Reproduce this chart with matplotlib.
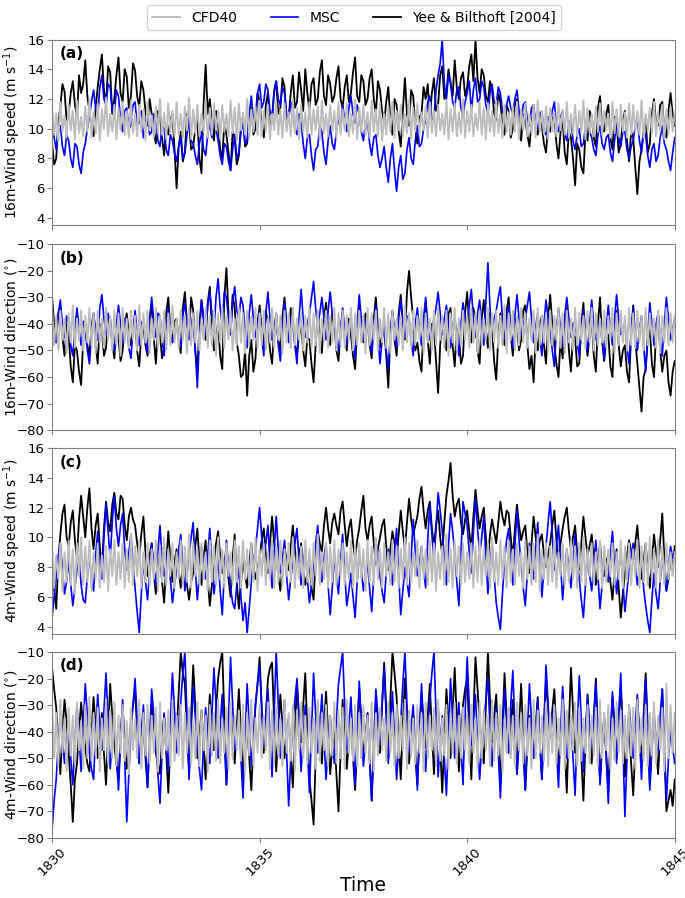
import numpy as np
import matplotlib
matplotlib.use("Agg")
import matplotlib.pyplot as plt

# time axis: 301 samples from 1830 to 1845
time = np.linspace(1830, 1845, 301)

# 16 m wind speed (m/s), one row per unit of time
ws16_cfd = [11.4, 9.6, 11.0, 9.2, 11.8, 9.8, 10.9, 9.4, 11.6, 9.9, 11.2, 9.3, 11.9, 9.7, 10.8, 9.5, 11.5, 9.8, 12.0, 9.4,
            11.1, 9.7, 11.7, 9.2, 11.3, 10.0, 12.1, 9.5, 11.0, 9.8, 11.6, 9.3, 11.4, 9.9, 11.8, 9.6, 11.2, 9.4, 11.9, 9.7,
            11.0, 9.5, 11.6, 9.8, 11.3, 9.2, 11.8, 9.9, 10.9, 9.4, 11.5, 9.7, 12.0, 9.6, 11.1, 9.3, 11.7, 9.8, 11.2, 9.5,
            11.8, 9.6, 11.0, 9.4, 11.5, 9.9, 12.1, 9.3, 11.3, 9.7, 11.6, 9.5, 11.0, 9.8, 11.9, 9.4, 11.4, 9.6, 11.7, 9.9,
            11.2, 9.3, 11.6, 9.8, 11.0, 9.5, 11.9, 9.7, 11.4, 9.2, 11.7, 9.9, 11.1, 9.6, 12.0, 9.4, 11.3, 9.8, 11.5, 9.6,
            11.9, 9.5, 11.2, 9.8, 11.6, 9.3, 11.0, 9.9, 11.8, 9.6, 11.3, 9.4, 11.7, 9.8, 11.1, 9.5, 12.0, 9.7, 11.4, 9.3,
            11.6, 9.8, 11.1, 9.4, 11.8, 9.6, 11.3, 9.9, 11.5, 9.2, 11.9, 9.7, 11.0, 9.5, 11.6, 9.8, 11.2, 9.4, 11.8, 9.6,
            11.3, 9.9, 11.7, 9.5, 11.0, 9.7, 12.0, 9.3, 11.4, 9.8, 11.6, 9.6, 11.1, 9.4, 11.9, 9.8, 11.3, 9.5, 11.7, 9.2,
            11.0, 9.6, 11.5, 9.8, 11.8, 9.4, 11.2, 9.9, 11.6, 9.5, 11.0, 9.7, 11.9, 9.3, 11.4, 9.8, 11.7, 9.6, 11.1, 9.9,
            11.5, 9.4, 11.8, 9.7, 11.2, 9.5, 11.6, 9.9, 11.0, 9.6, 11.9, 9.3, 11.3, 9.8, 11.7, 9.5, 11.1, 9.7, 12.0, 9.4,
            11.2, 9.8, 11.6, 9.5, 11.0, 9.9, 11.8, 9.6, 11.4, 9.3, 11.7, 9.8, 11.2, 9.5, 11.9, 9.7, 11.0, 9.4, 11.6, 9.8,
            11.1, 9.6, 11.5, 9.8, 11.8, 9.3, 11.3, 9.9, 11.7, 9.5, 11.0, 9.7, 11.6, 9.4, 11.9, 9.8, 11.2, 9.6, 11.5, 9.3,
            11.4, 9.8, 11.1, 9.5, 11.7, 9.9, 11.3, 9.6, 11.8, 9.4, 11.0, 9.7, 11.6, 9.5, 11.2, 9.8, 11.9, 9.3, 11.4, 9.7,
            11.0, 9.5, 11.5, 9.8, 11.7, 9.6, 11.2, 9.9, 11.0, 9.4, 11.8, 9.7, 11.3, 9.5, 11.6, 9.8, 11.1, 9.4, 11.7, 9.6,
            11.6, 9.8, 11.2, 9.6, 11.9, 9.4, 11.0, 9.9, 11.4, 9.7, 11.8, 9.5, 11.1, 9.8, 11.6, 9.3, 11.3, 9.7, 11.5, 9.8,
            11.0]
ws16_msc = [10.6, 9.4, 8.6, 9.8, 10.2, 8.8, 8.2, 9.6, 9.2, 8.0, 7.4, 9.0, 8.8, 7.6, 7.0, 8.4, 9.0, 10.0, 10.8, 11.8,
            12.6, 11.4, 10.8, 12.8, 13.6, 12.0, 11.6, 13.0, 12.8, 11.2, 11.0, 12.6, 12.2, 10.6, 9.8, 11.2, 11.4, 10.0, 10.2, 11.6,
            11.8, 10.2, 10.4, 11.2, 9.4, 10.4, 11.0, 9.6, 9.8, 11.0, 10.6, 9.2, 8.8, 10.2, 10.0, 8.6, 8.2, 9.6, 9.2, 8.4,
            7.8, 8.8, 9.4, 8.0, 8.4, 9.6, 10.6, 9.2, 9.0, 8.2, 7.6, 9.0, 9.8, 8.6, 8.2, 9.6, 10.4, 9.4, 11.0, 10.0,
            9.2, 8.2, 7.6, 9.0, 8.8, 7.8, 7.2, 8.6, 9.6, 8.0, 8.4, 9.8, 10.4, 9.0, 9.2, 11.0, 12.2, 10.6, 11.0, 12.4,
            13.0, 11.4, 11.8, 13.0, 12.6, 11.2, 10.8, 12.4, 13.2, 12.0, 11.6, 12.8, 12.4, 11.0, 10.6, 11.8, 11.2, 10.0, 9.6, 11.0,
            10.4, 9.0, 8.0, 9.4, 9.6, 8.2, 7.2, 8.6, 8.8, 10.2, 9.8, 8.4, 7.6, 9.2, 10.2, 9.0, 8.6, 9.8, 10.8, 10.0,
            11.6, 10.6, 9.8, 11.4, 12.2, 11.0, 10.4, 11.6, 11.0, 9.8, 9.2, 10.4, 10.6, 9.0, 8.2, 9.4, 9.6, 8.2, 7.4, 8.0,
            8.8, 7.4, 6.4, 8.0, 9.0, 7.2, 5.8, 7.4, 8.2, 6.6, 7.0, 8.6, 9.4, 8.0, 7.6, 9.2, 10.2, 8.8, 9.0, 10.0,
            10.6, 11.8, 12.2, 10.6, 10.8, 12.6, 13.6, 14.4, 16.0, 13.0, 12.0, 13.6, 13.2, 11.8, 11.4, 12.6, 12.8, 11.4, 10.8, 11.8,
            12.4, 13.2, 11.2, 12.6, 13.4, 11.8, 12.0, 13.2, 12.8, 11.6, 11.0, 12.4, 13.0, 11.8, 11.6, 12.8, 12.4, 11.2, 10.8, 11.6,
            12.2, 11.4, 11.0, 12.0, 12.6, 11.2, 10.6, 11.6, 11.8, 10.6, 10.2, 11.4, 11.6, 10.4, 10.0, 11.0, 11.2, 9.8, 9.6, 10.8,
            10.4, 11.2, 11.8, 10.2, 9.8, 10.8, 11.2, 9.6, 9.2, 10.4, 10.6, 9.2, 8.6, 9.6, 10.0, 8.8, 9.0, 10.2, 11.0, 9.8,
            9.4, 8.6, 8.2, 9.6, 10.2, 9.0, 8.6, 9.4, 9.6, 8.4, 7.8, 9.2, 10.4, 9.4, 8.8, 9.8, 9.8, 8.6, 8.0, 8.8,
            9.2, 10.2, 10.8, 9.2, 8.4, 9.8, 9.6, 8.2, 7.4, 8.6, 9.0, 7.8, 8.2, 9.4, 10.2, 9.0, 8.6, 7.8, 7.2, 8.4,
            9.4]
ws16_yee = [9.0, 7.6, 8.0, 10.4, 11.5, 13.0, 12.5, 10.6, 11.0, 12.4, 13.2, 11.6, 10.8, 13.6, 12.4, 13.0, 14.6, 12.2, 11.2, 10.0,
            9.5, 11.4, 12.8, 14.0, 15.0, 12.6, 11.6, 14.2, 13.8, 11.0, 12.0, 13.6, 14.8, 12.4, 11.8, 14.0, 13.5, 11.4, 12.2, 14.4,
            13.9, 12.2, 11.5, 13.2, 12.6, 11.2, 10.2, 12.0, 11.0, 9.8, 9.0, 11.2, 10.8, 9.4, 8.2, 10.2, 9.6, 10.6, 11.0, 8.6,
            6.0, 8.8, 9.8, 7.8, 8.4, 11.0, 10.4, 8.6, 8.8, 10.0, 10.6, 8.0, 7.0, 11.6, 14.3, 11.0, 12.0, 10.4, 9.2, 11.2,
            10.2, 8.6, 8.0, 10.4, 9.6, 8.4, 7.2, 9.8, 9.4, 7.6, 8.2, 10.2, 10.8, 8.8, 9.0, 11.0, 11.4, 9.6, 10.0, 12.4,
            11.8, 10.2, 9.4, 11.6, 12.4, 10.0, 10.6, 12.6, 13.2, 11.0, 11.4, 13.4, 12.8, 10.4, 10.8, 12.4, 13.6, 11.4, 11.8, 13.8,
            12.6, 11.2, 14.0, 12.4, 11.2, 13.0, 13.4, 11.6, 12.0, 13.8, 14.6, 12.2, 11.6, 13.6, 13.0, 11.8, 12.2, 13.4, 14.2, 12.0,
            11.4, 12.8, 13.6, 11.8, 12.4, 13.8, 14.8, 12.2, 11.8, 13.6, 13.2, 11.6, 12.0, 13.4, 14.0, 12.0, 11.0, 13.2, 12.6, 11.2,
            10.4, 11.8, 12.8, 10.6, 9.6, 12.0, 11.6, 9.8, 8.8, 11.2, 13.4, 11.0, 10.2, 12.6, 12.2, 10.2, 9.0, 10.8, 11.0, 12.8,
            12.0, 13.0, 10.8, 12.4, 13.4, 11.2, 11.6, 13.6, 14.2, 12.0, 12.4, 14.0, 13.0, 12.2, 14.6, 12.8, 12.0, 13.4, 13.8, 12.2,
            12.8, 14.2, 15.0, 13.2, 16.0, 13.4, 12.4, 14.0, 13.6, 12.2, 11.8, 13.2, 12.6, 11.0, 10.6, 12.4, 11.8, 10.2, 9.6, 11.6,
            11.2, 9.4, 10.0, 11.6, 12.0, 10.4, 9.2, 11.0, 10.6, 9.6, 8.8, 10.4, 11.4, 10.0, 9.6, 11.0, 10.2, 9.0, 8.4, 10.2,
            9.8, 10.6, 11.0, 9.0, 8.0, 9.8, 10.6, 8.4, 7.6, 9.8, 9.4, 8.0, 6.2, 9.0, 8.6, 7.4, 7.0, 9.8, 9.2, 11.2,
            10.8, 9.4, 8.8, 11.4, 12.2, 10.2, 9.8, 11.0, 11.6, 9.4, 8.6, 10.8, 10.4, 8.4, 9.0, 10.6, 11.2, 9.2, 7.8, 9.8,
            9.4, 7.4, 5.6, 7.8, 8.6, 9.8, 10.6, 8.4, 9.0, 11.0, 12.0, 10.4, 10.2, 11.6, 11.8, 9.8, 9.4, 11.2, 12.4, 11.0,
            10.2]

# 16 m wind direction (deg)
wd16_cfd = [-34, -48, -37, -50, -35, -46, -38, -51, -36, -47, -33, -49, -38, -46, -35, -50, -37, -47, -34, -48,
            -36, -51, -35, -47, -38, -49, -34, -46, -37, -50, -35, -48, -36, -52, -34, -47, -38, -49, -35, -46,
            -37, -50, -33, -48, -36, -47, -35, -51, -38, -46, -34, -49, -37, -47, -35, -50, -36, -48, -33, -47,
            -38, -49, -35, -46, -37, -51, -34, -48, -36, -47, -35, -50, -38, -46, -34, -49, -37, -48, -35, -52,
            -36, -47, -34, -49, -37, -46, -35, -50, -38, -48, -34, -47, -36, -51, -35, -48, -37, -46, -34, -49,
            -36, -48, -35, -50, -38, -47, -34, -49, -36, -46, -37, -51, -35, -47, -36, -49, -34, -48, -38, -46,
            -35, -50, -37, -47, -34, -49, -36, -48, -35, -51, -38, -46, -35, -49, -37, -47, -34, -50, -36, -48,
            -35, -49, -37, -46, -34, -50, -36, -48, -35, -47, -37, -51, -34, -48, -36, -46, -35, -50, -38, -47,
            -34, -49, -36, -51, -35, -46, -38, -48, -37, -50, -33, -47, -36, -49, -35, -48, -37, -46, -34, -51,
            -36, -47, -38, -50, -35, -48, -34, -46, -37, -49, -35, -52, -36, -47, -34, -50, -38, -48, -35, -46,
            -37, -49, -34, -47, -36, -51, -35, -48, -38, -46, -34, -50, -36, -47, -35, -49, -37, -48, -33, -51,
            -36, -46, -35, -50, -37, -48, -34, -47, -36, -49, -38, -46, -35, -51, -34, -48, -37, -47, -36, -50,
            -35, -48, -37, -46, -34, -49, -36, -51, -35, -47, -38, -50, -34, -48, -36, -46, -37, -49, -35, -47,
            -34, -50, -36, -48, -38, -47, -35, -49, -37, -46, -34, -51, -36, -48, -35, -47, -37, -50, -34, -48,
            -36, -49, -35, -47, -37, -50, -34, -48, -36, -46, -38, -49, -35, -51, -37, -47, -34, -48, -36, -47,
            -37]
wd16_msc = [-38, -44, -47, -36, -31, -40, -45, -37, -40, -48, -52, -42, -34, -42, -48, -39, -42, -50, -55, -44,
            -36, -42, -46, -34, -29, -38, -44, -36, -39, -47, -50, -40, -33, -40, -47, -38, -41, -49, -53, -42,
            -35, -43, -48, -40, -38, -46, -51, -38, -30, -39, -45, -36, -37, -46, -52, -41, -34, -42, -47, -44,
            -40, -46, -49, -37, -32, -40, -46, -41, -36, -50, -64, -45, -31, -38, -44, -33, -28, -36, -43, -30,
            -23, -34, -40, -28, -30, -38, -44, -32, -26, -35, -38, -30, -33, -42, -49, -36, -29, -38, -45, -40,
            -35, -45, -52, -36, -28, -38, -46, -40, -38, -48, -54, -42, -32, -40, -47, -38, -40, -48, -55, -38,
            -27, -38, -45, -40, -36, -30, -24, -34, -41, -36, -30, -38, -46, -35, -28, -36, -40, -46, -50, -42,
            -34, -42, -48, -40, -38, -47, -53, -40, -29, -38, -46, -39, -37, -45, -51, -40, -33, -44, -55, -46,
            -42, -50, -57, -44, -35, -42, -49, -38, -31, -40, -45, -37, -38, -46, -52, -40, -34, -42, -48, -38,
            -30, -40, -46, -42, -38, -34, -28, -36, -44, -38, -33, -41, -49, -42, -37, -45, -52, -40, -32, -38,
            -40, -33, -27, -38, -45, -36, -31, -40, -48, -32, -17, -34, -43, -38, -35, -30, -26, -38, -46, -40,
            -33, -42, -49, -37, -29, -38, -44, -40, -38, -33, -28, -38, -47, -41, -36, -45, -52, -40, -31, -38,
            -42, -50, -56, -42, -34, -42, -48, -37, -30, -38, -45, -40, -39, -47, -52, -42, -35, -44, -50, -40,
            -31, -40, -46, -42, -38, -47, -53, -41, -33, -42, -48, -38, -29, -38, -44, -42, -40, -49, -55, -43,
            -34, -44, -50, -42, -37, -48, -58, -44, -32, -40, -48, -40, -36, -45, -52, -40, -30, -38, -46, -42,
            -38]
wd16_yee = [-30, -40, -47, -36, -34, -45, -52, -40, -44, -56, -62, -48, -50, -58, -63, -46, -40, -48, -52, -41,
            -36, -48, -55, -40, -42, -52, -49, -38, -38, -47, -53, -41, -45, -54, -50, -40, -36, -44, -48, -42,
            -39, -50, -56, -44, -41, -48, -52, -38, -33, -45, -55, -42, -44, -53, -49, -36, -30, -42, -47, -39,
            -38, -46, -51, -34, -28, -40, -44, -30, -35, -50, -58, -40, -31, -38, -46, -32, -26, -42, -50, -44,
            -40, -52, -57, -30, -19, -36, -44, -29, -34, -47, -52, -60, -59, -50, -67, -52, -46, -58, -53, -40,
            -33, -42, -48, -35, -40, -50, -55, -42, -36, -46, -50, -37, -30, -40, -45, -34, -38, -47, -52, -44,
            -41, -50, -56, -45, -46, -55, -62, -48, -37, -44, -51, -38, -32, -42, -48, -36, -40, -50, -54, -42,
            -36, -45, -50, -38, -44, -52, -57, -42, -33, -40, -47, -36, -39, -48, -53, -38, -30, -41, -49, -44,
            -41, -52, -64, -44, -35, -46, -52, -36, -29, -40, -46, -28, -20, -30, -38, -50, -47, -54, -58, -40,
            -32, -46, -55, -40, -42, -54, -66, -48, -38, -45, -50, -36, -34, -48, -56, -42, -44, -55, -52, -36,
            -28, -40, -47, -34, -38, -50, -55, -38, -31, -42, -49, -36, -42, -54, -61, -45, -36, -44, -48, -35,
            -30, -44, -52, -38, -40, -50, -46, -35, -33, -48, -57, -52, -62, -45, -50, -40, -37, -48, -55, -38,
            -29, -40, -48, -55, -60, -46, -53, -40, -34, -50, -58, -44, -45, -56, -55, -40, -32, -45, -52, -44,
            -38, -52, -58, -40, -30, -45, -54, -46, -44, -56, -60, -42, -35, -48, -56, -50, -48, -58, -62, -44,
            -33, -46, -55, -64, -73, -60, -57, -46, -42, -55, -60, -44, -36, -50, -58, -52, -50, -62, -67, -58,
            -54]

# 4 m wind speed (m/s)
ws4_cfd = [9.4, 6.6, 8.8, 7.2, 9.6, 6.4, 9.0, 7.0, 9.8, 6.8, 9.2, 6.2, 9.6, 7.4, 10.0, 6.8, 9.4, 7.0, 9.8, 6.4,
           9.0, 7.2, 9.6, 6.6, 8.8, 7.0, 9.4, 6.4, 9.2, 7.4, 9.8, 6.8, 9.0, 7.2, 9.6, 6.6, 9.2, 7.0, 10.2, 6.8,
           9.4, 7.4, 9.8, 6.6, 9.0, 7.0, 9.6, 6.8, 9.2, 7.2, 9.8, 6.4, 9.4, 7.0, 10.0, 6.8, 9.2, 7.4, 9.6, 6.6,
           9.0, 7.2, 9.8, 6.8, 9.4, 7.0, 10.2, 6.6, 9.6, 7.4, 9.2, 6.8, 9.6, 7.2, 9.0, 6.4, 9.8, 7.0, 9.4, 6.8,
           10.0, 7.2, 9.2, 6.6, 9.6, 7.4, 9.0, 6.8, 9.8, 7.0, 9.4, 6.6, 9.8, 7.2, 9.2, 6.8, 9.6, 7.0, 10.0, 6.4,
           9.2, 7.4, 9.6, 6.8, 9.0, 7.2, 9.8, 6.6, 9.4, 7.0, 9.8, 6.8, 9.2, 7.4, 9.6, 7.0, 10.0, 6.6, 9.0, 7.2,
           9.4, 6.6, 9.8, 7.0, 9.2, 6.8, 9.6, 7.4, 10.2, 6.8, 9.0, 7.2, 9.6, 6.6, 9.4, 7.0, 9.8, 6.8, 9.2, 7.4,
           9.6, 6.8, 9.0, 7.2, 9.8, 6.6, 9.4, 7.0, 9.6, 7.2, 9.2, 6.4, 9.8, 7.0, 9.4, 6.8, 10.0, 7.2, 9.2, 6.6,
           9.6, 7.4, 9.0, 6.8, 9.8, 7.0, 9.4, 6.6, 9.2, 7.2, 10.0, 6.8, 9.6, 7.0, 9.0, 7.4, 9.8, 6.6, 9.4, 7.2,
           9.2, 6.8, 9.8, 7.0, 9.6, 6.4, 9.0, 7.2, 9.4, 6.8, 10.2, 7.0, 9.2, 6.6, 9.8, 7.4, 9.4, 6.8, 9.6, 7.0,
           9.0, 7.2, 9.6, 6.6, 9.4, 7.0, 9.8, 6.8, 9.2, 7.4, 9.6, 6.6, 10.0, 7.0, 9.0, 6.8, 9.8, 7.2, 9.4, 6.6,
           9.8, 7.0, 9.2, 6.8, 9.6, 7.4, 9.0, 6.6, 9.8, 7.2, 9.4, 6.8, 9.6, 7.0, 10.2, 6.4, 9.2, 7.2, 9.6, 6.8,
           9.4, 7.0, 9.8, 6.6, 9.0, 7.4, 9.6, 6.8, 9.2, 7.0, 9.8, 7.2, 9.4, 6.6, 9.6, 7.0, 10.0, 6.8, 9.2, 7.4,
           9.6, 6.8, 9.0, 7.2, 9.8, 6.6, 9.4, 7.0, 9.2, 7.4, 9.6, 6.8, 9.0, 7.2, 9.8, 6.6, 9.4, 7.0, 9.6, 6.8,
           9.2, 7.4, 9.8, 6.6, 9.4, 7.0, 9.6, 6.8, 10.0, 7.2, 9.2, 6.6, 9.8, 7.0, 9.4, 6.8, 9.6, 7.2, 9.0, 7.4,
           9.0]
ws4_msc = [4.6, 6.0, 7.4, 8.8, 9.6, 7.8, 6.2, 7.0, 8.4, 6.8, 5.4, 6.6, 7.8, 8.6, 6.8, 5.8, 5.6, 7.4, 8.8, 7.2,
           6.4, 8.8, 10.4, 8.4, 7.2, 10.0, 12.2, 10.4, 8.6, 11.0, 12.8, 10.6, 9.4, 10.8, 11.6, 9.2, 7.8, 9.0, 10.2, 8.2,
           6.6, 5.0, 3.6, 6.2, 8.4, 7.0, 5.8, 7.8, 9.6, 8.0, 6.8, 9.0, 10.8, 8.6, 7.4, 8.4, 9.2, 7.2, 5.6, 6.8,
           7.8, 9.2, 10.2, 8.0, 6.4, 7.6, 8.8, 10.0, 11.0, 7.8, 5.8, 7.6, 9.4, 8.2, 7.2, 8.8, 10.6, 8.0, 6.2, 7.4,
           8.6, 6.4, 4.8, 7.6, 9.8, 8.0, 6.6, 5.6, 5.2, 6.8, 8.0, 6.0, 4.4, 5.6, 3.6, 5.2, 7.0, 8.4, 9.2, 10.6,
           12.0, 10.0, 8.8, 9.6, 10.8, 8.4, 6.6, 9.0, 11.4, 9.2, 7.6, 8.6, 9.8, 7.4, 5.8, 7.2, 8.4, 9.6, 10.6, 8.4,
           6.8, 8.0, 9.4, 7.2, 5.6, 6.8, 8.2, 9.6, 10.8, 8.4, 7.0, 8.6, 9.6, 6.8, 4.8, 6.6, 8.6, 7.4, 6.2, 8.4,
           10.2, 7.6, 5.4, 6.4, 7.6, 6.0, 4.6, 7.0, 9.0, 7.8, 6.4, 7.4, 8.2, 6.6, 5.0, 7.4, 9.8, 8.6, 7.4, 6.4,
           5.6, 7.6, 9.2, 8.0, 6.8, 8.8, 10.6, 7.4, 4.8, 6.4, 8.0, 7.0, 6.0, 8.6, 11.2, 9.0, 7.4, 8.2, 9.4, 7.8,
           6.6, 9.8, 12.2, 10.2, 8.4, 10.6, 13.0, 11.8, 10.4, 8.6, 6.8, 9.4, 11.6, 10.4, 9.0, 7.0, 5.4, 8.8, 12.4, 11.6,
           10.8, 9.0, 7.6, 10.4, 12.6, 10.6, 8.8, 10.0, 11.4, 8.6, 6.2, 8.0, 9.6, 7.4, 5.6, 4.6, 3.8, 6.2, 8.4, 9.8,
           10.6, 8.4, 6.8, 9.4, 11.8, 9.8, 8.2, 6.6, 5.4, 7.6, 9.6, 8.2, 7.2, 9.2, 11.0, 8.4, 6.0, 7.8, 9.4, 11.0,
           12.4, 10.2, 7.8, 9.4, 10.8, 8.2, 5.8, 7.6, 9.2, 7.8, 6.6, 8.4, 10.2, 8.6, 7.2, 5.8, 4.6, 6.8, 8.8, 7.4,
           6.4, 8.2, 9.8, 7.4, 5.2, 6.8, 8.4, 7.6, 7.0, 8.8, 10.4, 8.0, 6.2, 7.8, 9.0, 7.0, 5.0, 6.4, 7.8, 8.8,
           9.6, 8.2, 6.8, 7.8, 8.8, 6.6, 5.4, 4.4, 3.6, 5.8, 7.6, 6.2, 5.2, 7.0, 8.6, 7.4, 6.4, 8.0, 9.4, 8.6,
           9.0]
ws4_yee = [8.0, 6.6, 5.2, 8.4, 10.2, 11.6, 12.2, 10.0, 9.4, 11.0, 11.8, 9.8, 8.6, 11.2, 12.8, 11.4, 10.0, 12.0, 13.3, 10.6,
           9.2, 10.8, 11.6, 9.4, 7.8, 10.6, 12.4, 11.0, 10.4, 12.2, 13.0, 11.6, 11.2, 12.8, 12.6, 10.8, 9.8, 11.4, 12.0, 11.2,
           10.8, 9.6, 8.6, 10.2, 11.4, 9.0, 7.4, 8.8, 9.6, 7.6, 6.2, 8.0, 8.8, 7.0, 5.6, 8.2, 10.4, 8.6, 7.0, 8.4,
           9.2, 7.8, 6.6, 8.0, 8.4, 6.8, 5.8, 7.0, 7.6, 9.4, 10.6, 8.4, 6.8, 8.6, 9.8, 7.2, 5.4, 6.8, 8.2, 9.6,
           10.4, 8.8, 7.6, 8.4, 9.0, 7.2, 6.0, 8.6, 10.2, 7.0, 5.2, 7.0, 8.4, 7.4, 6.6, 8.2, 9.6, 8.0, 7.2, 8.0,
           8.6, 9.8, 10.6, 8.8, 7.6, 9.6, 11.4, 9.6, 8.8, 7.4, 6.4, 8.2, 9.4, 8.4, 7.8, 9.4, 10.8, 9.2, 8.0, 8.8,
           9.6, 7.8, 6.8, 7.6, 8.2, 6.6, 5.8, 8.4, 10.4, 9.6, 9.0, 10.8, 12.0, 10.6, 9.6, 11.0, 11.6, 10.8, 10.2, 11.8,
           12.4, 10.8, 9.4, 10.6, 11.2, 9.6, 8.6, 9.8, 10.6, 11.8, 12.8, 10.6, 9.8, 10.8, 11.4, 9.6, 8.2, 9.2, 10.0, 10.8,
           11.2, 9.4, 7.8, 9.2, 10.4, 9.6, 8.6, 10.2, 11.8, 10.4, 9.2, 11.0, 12.6, 11.2, 10.2, 10.8, 11.4, 12.6, 13.4, 11.8,
           10.6, 11.8, 12.4, 10.6, 9.4, 10.8, 11.8, 10.0, 8.8, 11.0, 12.8, 13.8, 15.0, 12.8, 11.4, 12.2, 12.6, 11.0, 10.2, 11.2,
           11.8, 10.4, 9.2, 11.4, 13.2, 11.8, 10.6, 11.4, 12.0, 10.0, 8.4, 10.2, 11.2, 10.4, 9.6, 11.0, 12.4, 11.4, 10.8, 11.8,
           11.6, 10.0, 8.6, 10.6, 12.2, 10.8, 9.8, 10.4, 10.8, 9.0, 7.6, 9.6, 11.4, 10.0, 9.0, 9.8, 10.2, 8.8, 8.0, 8.8,
           9.6, 10.8, 11.8, 9.8, 8.4, 9.6, 10.6, 11.4, 12.0, 10.4, 9.2, 10.0, 10.8, 9.0, 7.8, 9.6, 11.4, 10.0, 8.8, 9.4,
           10.2, 8.6, 6.8, 8.2, 9.6, 8.0, 7.4, 8.4, 8.8, 7.0, 5.8, 7.6, 9.2, 6.6, 4.6, 6.2, 7.6, 8.8, 9.8, 9.0,
           8.4, 9.6, 10.8, 8.8, 7.2, 8.4, 9.6, 7.8, 6.6, 8.4, 10.2, 9.0, 8.0, 9.8, 11.6, 8.6, 6.4, 7.2, 8.6, 8.0,
           9.4]

# 4 m wind direction (deg)
wd4_cfd = [-30, -50, -33, -53, -28, -48, -35, -55, -31, -49, -34, -52, -29, -47, -36, -54, -30, -50, -27, -51,
           -33, -49, -31, -55, -35, -47, -28, -52, -32, -50, -29, -53, -34, -48, -30, -51, -36, -56, -31, -47,
           -35, -50, -28, -54, -33, -49, -30, -52, -34, -48, -31, -55, -29, -50, -35, -47, -32, -53, -28, -51,
           -34, -49, -30, -54, -33, -48, -31, -52, -36, -50, -29, -53, -32, -47, -34, -55, -30, -49, -33, -51,
           -28, -52, -35, -48, -31, -54, -29, -50, -34, -47, -32, -51, -30, -56, -33, -49, -28, -53, -35, -48,
           -30, -50, -34, -47, -29, -54, -32, -52, -31, -49, -35, -53, -28, -48, -33, -51, -30, -55, -32, -47,
           -29, -50, -34, -52, -31, -48, -35, -54, -28, -51, -33, -47, -30, -53, -34, -49, -29, -52, -32, -50,
           -31, -54, -28, -48, -35, -51, -30, -53, -33, -50, -30, -48, -34, -52, -29, -55, -33, -49, -31, -47,
           -35, -51, -29, -48, -33, -53, -30, -50, -34, -47, -28, -54, -32, -49, -35, -52, -30, -48, -33, -55,
           -29, -50, -34, -47, -31, -53, -28, -51, -35, -49, -30, -54, -33, -48, -29, -52, -34, -50, -31, -47,
           -33, -52, -30, -48, -35, -54, -29, -50, -32, -47, -34, -53, -28, -51, -33, -49, -30, -55, -35, -48,
           -31, -50, -34, -53, -29, -47, -33, -52, -30, -49, -35, -54, -28, -50, -32, -48, -34, -51, -29, -53,
           -33, -48, -30, -52, -35, -49, -28, -54, -32, -50, -34, -47, -29, -53, -31, -51, -35, -48, -30, -52,
           -34, -49, -31, -53, -28, -50, -33, -47, -30, -54, -35, -51, -29, -48, -32, -52, -34, -50, -30, -49,
           -31, -54, -28, -48, -35, -51, -30, -53, -33, -49, -29, -52, -34, -47, -31, -55, -22, -50, -30, -48,
           -33]
wd4_msc = [-77, -66, -58, -44, -33, -42, -52, -44, -38, -50, -60, -44, -30, -42, -55, -38, -22, -34, -48, -54,
           -58, -40, -26, -38, -47, -32, -18, -36, -54, -44, -35, -48, -62, -44, -28, -50, -74, -56, -40, -30,
           -20, -36, -52, -40, -30, -46, -61, -42, -24, -34, -45, -56, -67, -48, -33, -44, -55, -36, -18, -32,
           -48, -38, -29, -18, -10, -34, -58, -40, -23, -34, -44, -54, -62, -44, -31, -42, -52, -34, -16, -30,
           -50, -38, -26, -44, -60, -36, -12, -30, -47, -40, -35, -50, -65, -42, -22, -38, -53, -42, -30, -22,
           -15, -32, -45, -34, -24, -42, -57, -34, -10, -30, -50, -40, -28, -48, -68, -50, -36, -28, -20, -38,
           -55, -42, -30, -46, -63, -40, -18, -34, -48, -38, -26, -42, -58, -46, -34, -44, -52, -36, -22, -16,
           -10, -30, -47, -38, -27, -44, -60, -40, -21, -36, -53, -44, -33, -50, -66, -44, -24, -34, -44, -30,
           -16, -34, -52, -38, -25, -42, -58, -46, -36, -22, -10, -30, -48, -38, -30, -46, -62, -40, -22, -38,
           -55, -40, -28, -18, -10, -34, -57, -44, -34, -50, -64, -42, -20, -36, -50, -38, -29, -46, -60, -34,
           -12, -30, -45, -36, -26, -44, -58, -46, -38, -28, -20, -38, -53, -40, -31, -48, -65, -44, -24, -36,
           -48, -30, -17, -38, -56, -44, -33, -48, -62, -40, -22, -36, -50, -40, -28, -44, -58, -36, -15, -30,
           -42, -36, -30, -46, -61, -40, -23, -38, -50, -44, -36, -50, -64, -40, -19, -36, -55, -40, -27, -38,
           -46, -34, -22, -42, -60, -46, -34, -50, -67, -44, -25, -38, -52, -34, -18, -44, -72, -50, -30, -40,
           -50, -38, -26, -42, -58, -38, -20, -40, -62, -46, -35, -42, -48, -34, -24, -44, -66, -50, -40, -46,
           -52]
wd4_yee = [-16, -24, -31, -45, -56, -40, -28, -36, -48, -60, -74, -58, -52, -40, -29, -38, -46, -52, -55, -40,
           -27, -38, -50, -42, -33, -48, -60, -40, -22, -34, -45, -52, -58, -42, -30, -44, -54, -46, -36, -30,
           -24, -40, -52, -44, -38, -50, -61, -44, -30, -40, -48, -52, -56, -42, -34, -48, -63, -46, -28, -34,
           -40, -26, -10, -18, -22, -40, -55, -34, -15, -30, -50, -42, -32, -46, -58, -40, -26, -38, -47, -32,
           -20, -14, -10, -34, -60, -46, -33, -42, -52, -38, -24, -40, -57, -46, -38, -50, -62, -44, -30, -22,
           -12, -30, -48, -34, -20, -16, -14, -36, -55, -40, -26, -38, -50, -42, -35, -48, -61, -40, -22, -34,
           -44, -30, -18, -40, -58, -66, -75, -50, -30, -42, -52, -38, -25, -40, -56, -46, -40, -56, -70, -48,
           -28, -42, -54, -44, -36, -50, -62, -44, -24, -36, -50, -42, -33, -50, -66, -46, -29, -38, -48, -30,
           -14, -32, -50, -28, -10, -18, -27, -44, -58, -38, -20, -36, -52, -42, -34, -48, -60, -42, -26, -36,
           -46, -34, -22, -40, -56, -42, -31, -46, -63, -44, -24, -36, -50, -32, -16, -36, -55, -42, -30, -24,
           -20, -40, -58, -34, -12, -24, -36, -44, -52, -30, -10, -28, -44, -34, -26, -44, -60, -38, -18, -34,
           -48, -38, -28, -42, -56, -38, -22, -42, -62, -46, -34, -42, -50, -38, -27, -44, -58, -38, -20, -32,
           -42, -32, -24, -40, -54, -42, -30, -46, -63, -38, -16, -32, -48, -40, -32, -50, -66, -44, -26, -40,
           -52, -36, -20, -40, -58, -46, -35, -48, -62, -42, -27, -38, -50, -36, -23, -40, -57, -46, -38, -52,
           -64, -46, -28, -40, -52, -34, -18, -38, -60, -44, -33, -46, -56, -40, -24, -48, -70, -66, -62, -68,
           -58]

panels = [
    ("(a)", "16m-Wind speed (m s$^{-1}$)", ws16_cfd, ws16_msc, ws16_yee, (3.5, 16), [4, 6, 8, 10, 12, 14, 16], -0.047),
    ("(b)", "16m-Wind direction ($^{\\circ}$)", wd16_cfd, wd16_msc, wd16_yee, (-80, -10), list(range(-80, -9, 10)), -0.053),
    ("(c)", "4m-Wind speed (m s$^{-1}$)", ws4_cfd, ws4_msc, ws4_yee, (3.5, 16), [4, 6, 8, 10, 12, 14, 16], -0.047),
    ("(d)", "4m-Wind direction ($^{\\circ}$)", wd4_cfd, wd4_msc, wd4_yee, (-80, -10), list(range(-80, -9, 10)), -0.053),
]

fig = plt.figure(figsize=(6.85, 8.98), dpi=100)
bottoms = [0.749, 0.521, 0.294, 0.067]
spine_col = "#808080"

for i, (tag, ylab, cfd, msc, yee, ylim, yt, lab_x) in enumerate(panels):
    ax = fig.add_axes([0.076, bottoms[i], 0.909, 0.207])
    l_yee, = ax.plot(time, yee, color="black", lw=1.3)
    l_msc, = ax.plot(time, msc, color="blue", lw=1.2)
    l_cfd, = ax.plot(time, cfd, color="#bdbdbd", lw=1.4)
    ax.set_xlim(1830, 1845)
    ax.set_ylim(*ylim)
    ax.set_yticks(yt)
    ax.set_xticks([1830, 1835, 1840, 1845])
    ax.set_ylabel(ylab, fontsize=10)
    ax.yaxis.set_label_coords(lab_x, 0.5)
    ax.tick_params(labelsize=9.5, color=spine_col, pad=2)
    for s in ax.spines.values():
        s.set_color(spine_col)
    ax.text(0.012, 0.965, tag, transform=ax.transAxes, fontsize=11,
            fontweight="bold", va="top", ha="left")
    if i < 3:
        ax.set_xticklabels([])
    else:
        plt.setp(ax.get_xticklabels(), rotation=45)
        ax.set_xlabel("Time", fontsize=13.5, labelpad=-2)

fig.legend([l_cfd, l_msc, l_yee], ["CFD40", "MSC", "Yee & Bilthoft [2004]"],
           loc="upper center", bbox_to_anchor=(0.517, 1.002), ncol=3,
           fontsize=10, columnspacing=2.4, handlelength=2.0)

fig.savefig("out.png", dpi=100)
